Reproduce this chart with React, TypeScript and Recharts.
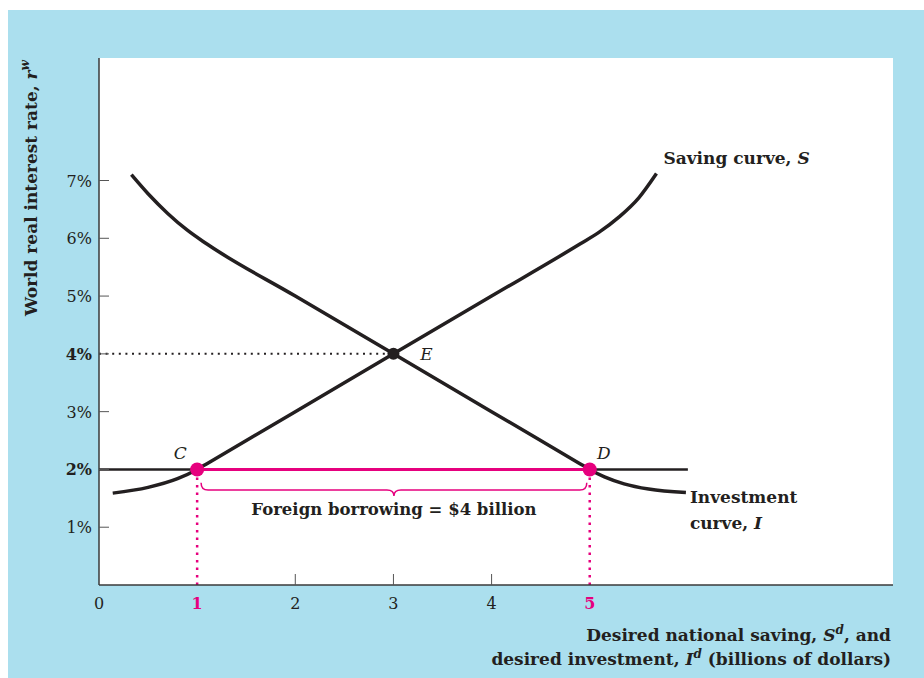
import React from 'react';
import {
  ComposedChart,
  Line,
  XAxis,
  YAxis,
  CartesianGrid,
  ReferenceLine,
  ReferenceDot,
  ReferenceArea,
  Label
} from 'recharts';

const savingCurve = [
  { x: 0.14, y: 1.59 }, { x: 0.5, y: 1.69 }, { x: 0.8, y: 1.84 }, { x: 1, y: 2 },
  { x: 1.1, y: 2.1 }, { x: 2, y: 3 }, { x: 3, y: 4 }, { x: 4, y: 5 }, { x: 4.9, y: 5.9 },
  { x: 5.1, y: 6.11 }, { x: 5.3, y: 6.37 }, { x: 5.5, y: 6.7 }, { x: 5.68, y: 7.12 }
];

const investmentCurve = [
  { x: 0.33, y: 7.1 }, { x: 0.5, y: 6.77 }, { x: 0.7, y: 6.43 }, { x: 0.9, y: 6.14 },
  { x: 1.1, y: 5.9 }, { x: 2, y: 5 }, { x: 3, y: 4 }, { x: 4, y: 3 }, { x: 4.9, y: 2.1 },
  { x: 5, y: 2 }, { x: 5.15, y: 1.87 }, { x: 5.35, y: 1.75 }, { x: 5.6, y: 1.66 }, { x: 5.98, y: 1.6 }
];

const xTicks = [0, 1, 2, 3, 4, 5];
const yTicks = [1, 2, 3, 4, 5, 6, 7];
const boldYTicks = [2, 4];
const pinkXTicks = [1, 5];

const worldRate = 2;
const closedRate = 4;
const pointC = { x: 1, y: 2 };
const pointD = { x: 5, y: 2 };
const pointE = { x: 3, y: 4 };
const rateLineEnd = 6;

const BLUE = '#abdfee';
const PINK = '#e6007e';
const INK = '#231f20';
const FONT = '"DejaVu Serif", serif';

const XTick = ({ x, y, payload }: any) => {
  const v = payload.value;
  const hi = pinkXTicks.includes(v);
  return (
    <g>
      {v >= 2 && v <= 4 && <line x1={x} x2={x} y1={y} y2={y - 11} stroke="#555" strokeWidth={1} />}
      <text x={x} y={y + 24} textAnchor="middle" fill={hi ? PINK : INK} fontWeight={hi ? 'bold' : 'normal'} fontSize={16} fontFamily={FONT}>
        {v}
      </text>
    </g>
  );
};

const YTick = ({ x, y, payload }: any) => {
  const v = payload.value;
  const b = boldYTicks.includes(v);
  return (
    <g>
      <line x1={x} x2={x + 10} y1={y} y2={y} stroke="#555" strokeWidth={1} />
      <text x={x - 7} y={y + 6} textAnchor="end" fill={INK} fontWeight={b ? 'bold' : 'normal'} fontSize={16} fontFamily={FONT}>
        {v}%
      </text>
    </g>
  );
};

const dotLabel = (txt: string, dx: number, dy: number) => (props: any) => {
  const vb = props.viewBox;
  const cx = vb.x + vb.width / 2;
  const cy = vb.y + vb.height / 2;
  return (
    <text x={cx + dx} y={cy + dy} textAnchor="middle" fontStyle="italic" fontSize={17} fill={INK} fontFamily={FONT}>
      {txt}
    </text>
  );
};

const Brace = (p: any) => {
  const x0 = p.x;
  const x1 = p.x + p.width;
  const top = p.y;
  const bot = p.y + p.height;
  const mid = (x0 + x1) / 2;
  const ym = top + p.height * 0.55;
  const d = `M${x0},${top} Q${x0},${ym} ${x0 + 7},${ym} L${mid - 7},${ym} Q${mid},${ym} ${mid},${bot} Q${mid},${ym} ${mid + 7},${ym} L${x1 - 7},${ym} Q${x1},${ym} ${x1},${top}`;
  return (
    <g>
      <path d={d} fill="none" stroke={PINK} strokeWidth={1.5} />
      <text x={mid} y={bot + 19} textAnchor="middle" fontWeight="bold" fontSize={16.5} fill={INK} fontFamily={FONT}>
        Foreign borrowing = $4 billion
      </text>
    </g>
  );
};

export default function App() {
  return (
    <div style={{ position: 'absolute', left: 8, top: 10, width: 916, height: 668, background: BLUE }}>
      <ComposedChart width={916} height={668} margin={{ top: 48, right: 31, bottom: 63, left: 0 }}>
        <CartesianGrid horizontal={false} vertical={false} fill="#ffffff" />
        <XAxis
          type="number"
          dataKey="x"
          domain={[0, 8.09]}
          ticks={xTicks}
          allowDataOverflow
          height={30}
          tickSize={0}
          tickMargin={0}
          tick={<XTick />}
          stroke="#3a3a3a"
          strokeWidth={1.5}
        >
          <Label
            content={() => (
              <g fontFamily={FONT} fontWeight="bold" fontSize={17} fill={INK}>
                <text x={883} y={631} textAnchor="end">
                  Desired national saving, <tspan fontStyle="italic">S</tspan>
                  <tspan dy={-7} fontSize={12} fontStyle="italic">d</tspan>
                  <tspan dy={7}>, and</tspan>
                </text>
                <text x={883} y={655} textAnchor="end">
                  desired investment, <tspan fontStyle="italic">I</tspan>
                  <tspan dy={-7} fontSize={12} fontStyle="italic">d</tspan>
                  <tspan dy={7}> (billions of dollars)</tspan>
                </text>
              </g>
            )}
          />
        </XAxis>
        <YAxis
          type="number"
          dataKey="y"
          domain={[0, 9.12]}
          ticks={yTicks}
          allowDataOverflow
          width={91}
          tickSize={0}
          tickMargin={0}
          tick={<YTick />}
          stroke="#3a3a3a"
          strokeWidth={1.5}
        >
          <Label
            content={() => (
              <text
                x={29}
                y={178}
                transform="rotate(-90 29 178)"
                textAnchor="middle"
                fontFamily={FONT}
                fontWeight="bold"
                fontSize={17}
                fill={INK}
              >
                World real interest rate, <tspan fontStyle="italic">r</tspan>
                <tspan dy={-8} fontSize={12} fontStyle="italic">w</tspan>
              </text>
            )}
          />
        </YAxis>

        <ReferenceLine
          segment={[{ x: 0, y: closedRate }, { x: pointE.x, y: closedRate }]}
          stroke={INK}
          strokeWidth={2}
          strokeDasharray="2 4.6"
        />
        <ReferenceLine segment={[{ x: pointC.x, y: 0 }, { x: pointC.x, y: worldRate }]} stroke={PINK} strokeWidth={2.5} strokeDasharray="2.5 5" />
        <ReferenceLine segment={[{ x: pointD.x, y: 0 }, { x: pointD.x, y: worldRate }]} stroke={PINK} strokeWidth={2.5} strokeDasharray="2.5 5" />
        <ReferenceLine segment={[{ x: 0, y: worldRate }, { x: rateLineEnd, y: worldRate }]} stroke={INK} strokeWidth={2.5} />

        <Line data={savingCurve} dataKey="y" type="monotone" stroke={INK} strokeWidth={3.5} dot={false} isAnimationActive={false} />
        <Line data={investmentCurve} dataKey="y" type="monotone" stroke={INK} strokeWidth={3.5} dot={false} isAnimationActive={false} />

        <ReferenceLine segment={[{ x: pointC.x, y: worldRate }, { x: pointD.x, y: worldRate }]} stroke={PINK} strokeWidth={3} />

        <ReferenceArea x1={1.04} x2={4.97} y1={1.54} y2={1.77} shape={<Brace />} />

        <ReferenceDot x={pointC.x} y={pointC.y} r={7} fill={PINK} stroke="none" label={dotLabel('C', -17, -10)} />
        <ReferenceDot x={pointD.x} y={pointD.y} r={7} fill={PINK} stroke="none" label={dotLabel('D', 14, -10)} />
        <ReferenceDot x={pointE.x} y={pointE.y} r={6} fill={INK} stroke="none" label={dotLabel('E', 33, 6)} />

        <ReferenceDot
          x={5.68}
          y={7.12}
          r={1}
          fill="none"
          stroke="none"
          label={(props: any) => (
            <text x={props.viewBox.x + 8} y={props.viewBox.y - 9} fontFamily={FONT} fontWeight="bold" fontSize={17} fill={INK}>
              Saving curve, <tspan fontStyle="italic">S</tspan>
            </text>
          )}
        />
        <ReferenceDot
          x={5.98}
          y={1.6}
          r={1}
          fill="none"
          stroke="none"
          label={(props: any) => (
            <g fontFamily={FONT} fontWeight="bold" fontSize={17} fill={INK}>
              <text x={props.viewBox.x + 5} y={props.viewBox.y + 11}>Investment</text>
              <text x={props.viewBox.x + 5} y={props.viewBox.y + 37}>
                curve, <tspan fontStyle="italic">I</tspan>
              </text>
            </g>
          )}
        />
      </ComposedChart>
    </div>
  );
}
